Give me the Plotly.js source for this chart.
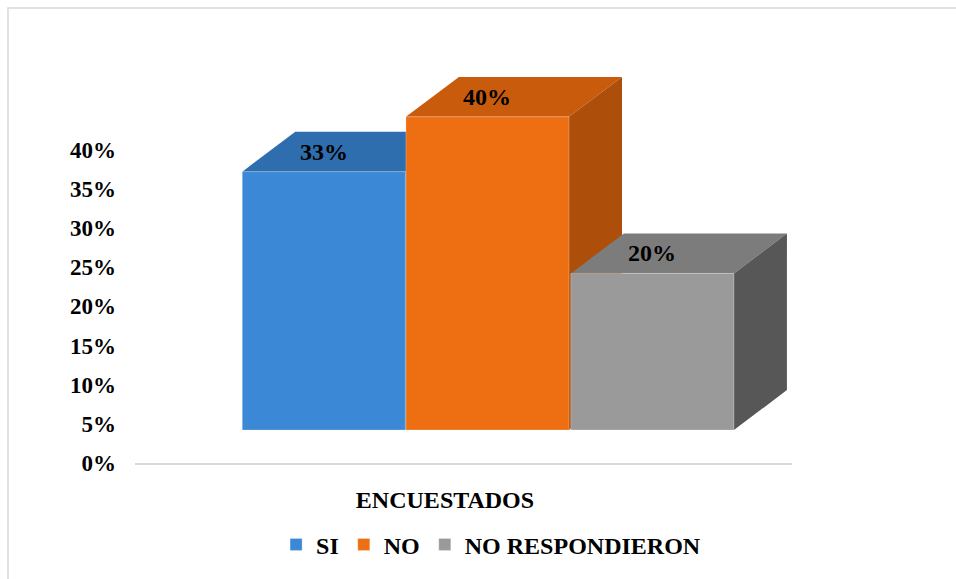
<!DOCTYPE html>
<html>
<head>
<meta charset="utf-8">
<script src="https://cdn.plot.ly/plotly-3.0.1.min.js"></script>
<style>html,body{margin:0;padding:0;background:#fff;}#chart{width:956px;height:579px;}</style>
</head>
<body>
<div id="chart"></div>
<script>
// ---- data ----
const categories = ['ENCUESTADOS'];
const seriesNames = ['SI', 'NO', 'NO RESPONDIERON'];
const siValues = [33];
const noValues = [40];
const nrValues = [20];
const yTickVals = [0, 5, 10, 15, 20, 25, 30, 35, 40];
const yTickText = ['0%', '5%', '10%', '15%', '20%', '25%', '30%', '35%', '40%'];

// ---- style ----
const frontColors = ['#3b88d6', '#ee6e12', '#9a9a9a'];
const topColors = ['#2f6eae', '#c95b0c', '#7c7c7c'];
const sideColors = ['#295f97', '#ad4f0a', '#575757'];
const barWidth = 0.263;
const barOffsets = [-0.327, -0.063, 0.203];
const floorBase = 4.21;  // 3D floor lift (front face of the floor)
const depthX = 0.0855;   // 3D depth, x units
const depthY = 5.1;      // 3D depth, y units
const FONT = 'Liberation Serif';

const seriesValues = [siValues, noValues, nrValues];
const xIdx = categories.map((c, i) => i);

const traces = seriesNames.map((name, s) => ({
  type: 'bar',
  name: name,
  x: xIdx,
  y: seriesValues[s],
  base: floorBase,
  width: barWidth,
  offset: barOffsets[s],
  marker: {color: frontColors[s], line: {color: 'rgba(255,255,255,0.25)', width: 1}},
  hoverinfo: 'none',
  cliponaxis: false
}));

const shapes = [];
const annotations = [];
seriesValues.forEach((vals, s) => {
  vals.forEach((v, i) => {
    const x0 = xIdx[i] + barOffsets[s];
    const x1 = x0 + barWidth;
    const b = floorBase;
    const t = floorBase + v;
    // top face
    shapes.push({
      type: 'path', xref: 'x', yref: 'y', layer: 'below',
      path: `M ${x0},${t} L ${x1},${t} L ${x1 + depthX},${t + depthY} L ${x0 + depthX},${t + depthY} Z`,
      fillcolor: topColors[s], line: {width: 0}
    });
    // side face
    shapes.push({
      type: 'path', xref: 'x', yref: 'y', layer: 'below',
      path: `M ${x1},${b} L ${x1},${t} L ${x1 + depthX},${t + depthY} L ${x1 + depthX},${b + depthY} Z`,
      fillcolor: sideColors[s], line: {width: 0}
    });
    annotations.push({
      xref: 'x', yref: 'y', x: x0 + barWidth / 2, y: t + depthY / 2,
      text: '<b>' + v + '%</b>', showarrow: false,
      font: {family: FONT, size: 24, color: '#000'}
    });
  });
});

// outer frame
shapes.push({
  type: 'rect', xref: 'paper', yref: 'paper', layer: 'below',
  x0: -0.1933, x1: 1.26, y0: -0.32, y1: 1.129,
  line: {color: '#d9d9d9', width: 1.5}, fillcolor: 'rgba(0,0,0,0)'
});

const layout = {
  width: 956, height: 579,
  margin: {l: 135, r: 164, t: 60, b: 116},
  paper_bgcolor: '#fff', plot_bgcolor: 'rgba(0,0,0,0)',
  showlegend: true,
  legend: {
    orientation: 'h', x: 0.542, xanchor: 'center', y: -0.203, yanchor: 'middle',
    font: {family: FONT, size: 24, color: '#000', weight: 'bold'},
    itemclick: false, itemdoubleclick: false
  },
  xaxis: {
    type: 'linear', range: [-0.5, 0.5597],
    tickvals: xIdx, ticktext: categories.map(c => '<b>' + c + '</b>'),
    tickfont: {family: FONT, size: 24, color: '#000'},
    showgrid: false, zeroline: false,
    showline: true, linecolor: '#d9d9d9', linewidth: 2,
    ticks: '', ticklabelstandoff: 14, fixedrange: true
  },
  yaxis: {
    range: [0, 51.47],
    tickmode: 'array',
    tickvals: yTickVals, ticktext: yTickText.map(t => '<b>' + t + '</b>'),
    tickfont: {family: FONT, size: 23, color: '#000'},
    showgrid: false, zeroline: false, showline: false,
    ticks: '', ticklabelstandoff: 18, fixedrange: true
  },
  shapes: shapes,
  annotations: annotations,
  bargap: 0, bargroupgap: 0
};

Plotly.newPlot('chart', traces, layout, {displayModeBar: false, staticPlot: true});
</script>
</body>
</html>
